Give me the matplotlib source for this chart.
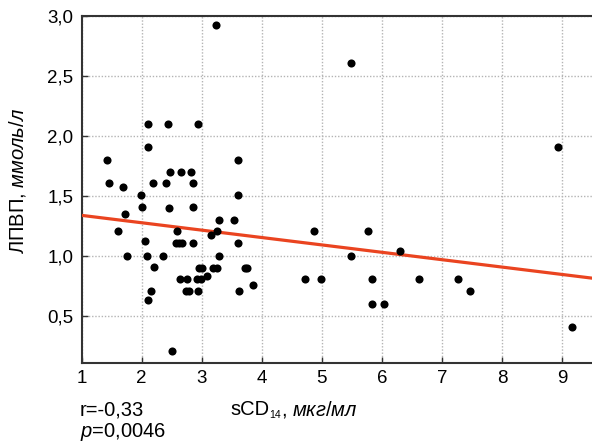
import matplotlib
matplotlib.use("Agg")
import matplotlib.pyplot as plt
import numpy as np
from matplotlib.transforms import offset_copy

plt.rcParams['font.family'] = ['Liberation Sans', 'DejaVu Sans']
plt.rcParams['mathtext.fontset'] = 'custom'
plt.rcParams['mathtext.rm'] = 'Liberation Sans'
plt.rcParams['mathtext.it'] = 'Liberation Sans:italic'

# data
scd14 = [3.23, 2.11, 2.44, 2.93, 2.11, 1.42, 3.60, 2.47, 2.65, 2.82,
         1.46, 1.69, 2.18, 2.41, 2.85, 1.98, 3.61, 2.00, 2.46, 2.85,
         1.72, 3.28, 3.54, 1.61, 2.59, 3.26, 4.87, 3.15, 2.05, 2.57,
         2.62, 2.67, 2.85, 3.61, 1.75, 2.09, 2.36, 3.29, 2.21, 2.95,
         3.00, 3.19, 3.25, 3.72, 3.76, 2.64, 2.75, 2.92, 2.98, 3.09,
         4.72, 4.98, 2.155, 2.73, 2.78, 2.94, 3.62, 3.85, 2.11, 2.51,
         5.49, 8.93, 5.77, 5.49, 6.31, 5.84, 6.62, 7.26, 7.47, 5.84,
         6.03, 9.16]
hdl = [2.92, 2.10, 2.10, 2.10, 1.91, 1.80, 1.80, 1.70, 1.70, 1.70,
       1.61, 1.57, 1.61, 1.61, 1.61, 1.51, 1.51, 1.41, 1.40, 1.41,
       1.35, 1.30, 1.30, 1.21, 1.21, 1.21, 1.21, 1.17, 1.12, 1.11,
       1.11, 1.11, 1.11, 1.11, 1.00, 1.00, 1.00, 1.00, 0.91, 0.90,
       0.90, 0.90, 0.90, 0.90, 0.90, 0.81, 0.81, 0.81, 0.81, 0.83,
       0.81, 0.81, 0.71, 0.71, 0.71, 0.71, 0.71, 0.76, 0.63, 0.21,
       2.61, 1.91, 1.21, 1.00, 1.04, 0.81, 0.81, 0.81, 0.71, 0.60,
       0.60, 0.41]

fit_intercept = 1.3985
fit_slope = -0.0615

x_ticks = [1, 2, 3, 4, 5, 6, 7, 8, 9]
y_ticks = [0.5, 1.0, 1.5, 2.0, 2.5, 3.0]
y_tick_labels = ['0,5', '1,0', '1,5', '2,0', '2,5', '3,0']

fig = plt.figure(figsize=(5.92, 4.47), dpi=100)
ax = fig.add_axes([81.7 / 592, 1 - 363.3 / 447, 1 - 81.7 / 592, (363.3 - 15.7) / 447])

ax.set_xlim(1, 9.5)
ax.set_ylim(0.105, 3.0)

ax.grid(True, linestyle=(0, (1, 1.3)), color='#b4b4b4', linewidth=1.0)
ax.set_axisbelow(True)

xs = np.array([1.0, 9.5])
ax.plot(xs, fit_intercept + fit_slope * xs, color='#ea4420', linewidth=2.3, zorder=3)

ax.scatter(scd14, hdl, s=34, color='black', zorder=4, linewidths=0)

ax.set_xticks(x_ticks)
ax.set_xticklabels([str(t) for t in x_ticks])
ax.set_yticks(y_ticks)
ax.set_yticklabels(y_tick_labels)
ax.tick_params(direction='in', length=4, width=1, color='#333333',
               labelsize=13.5)
ax.tick_params(axis='y', pad=6)
ax.tick_params(axis='x', pad=5)

for side in ['top', 'left', 'bottom']:
    ax.spines[side].set_color('#333333')
    ax.spines[side].set_linewidth(1.5)
ax.spines['right'].set_visible(False)

fig.text(18 / 592, 1 - 181 / 447, r'ЛПВП, $\mathit{ммоль/л}$', rotation=90,
         ha='center', va='center', fontsize=14.5)

# x-axis label built from pieces so that the subscript is small
base_y = 1 - 415 / 447
t1 = fig.text(230 / 592, base_y, 'sCD', ha='left', va='baseline', fontsize=14.5)
fig.canvas.draw()
r = fig.canvas.get_renderer()
bb = t1.get_window_extent(r)
t2 = fig.text(bb.x1 / 592 + 0.5 / 592, base_y - 2.5 / 447, '14', ha='left',
              va='baseline', fontsize=7.5)
bb2 = t2.get_window_extent(r)
fig.text(bb2.x1 / 592, base_y, r', $\mathit{мкг/мл}$', ha='left', va='baseline',
         fontsize=14.5)

fig.text(80 / 592, base_y, 'r=-0,33', ha='left', va='baseline', fontsize=14.5)
fig.text(80 / 592, 1 - 437 / 447, r'$\mathit{p}$=0,0046', ha='left', va='baseline',
         fontsize=14.5)

fig.savefig('out.png', dpi=100)
